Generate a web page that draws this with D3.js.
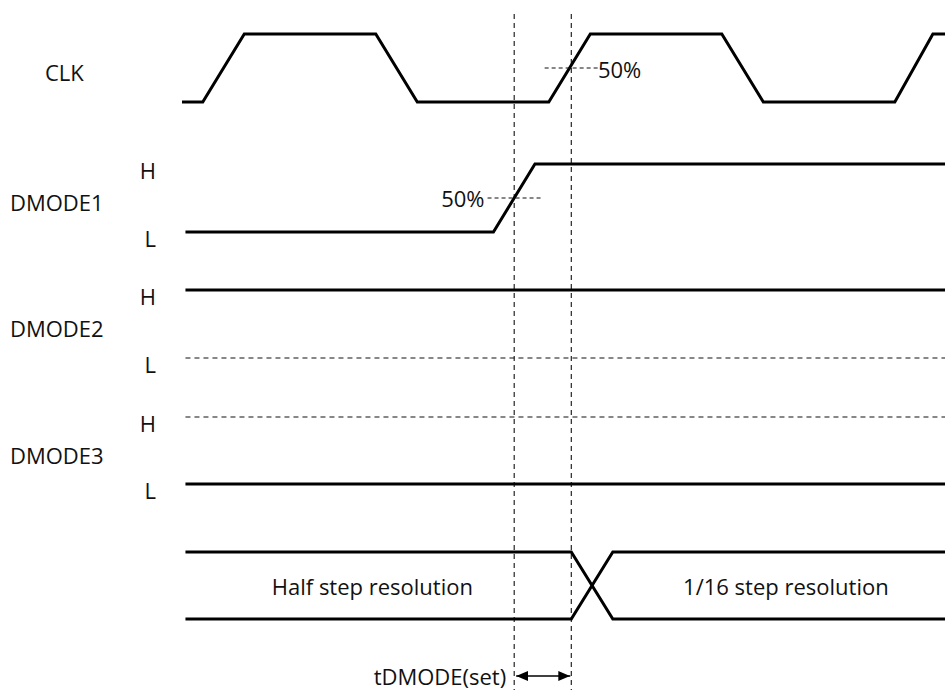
<!DOCTYPE html>
<html>
<head>
<meta charset="utf-8">
<script src="https://cdn.jsdelivr.net/npm/d3@7"></script>
<style>
html,body{margin:0;padding:0;background:#fff;}
svg{display:block;}
text{font-family:"Open Sans","Noto Sans",sans-serif;fill:#111;}
</style>
</head>
<body>
<svg id="chart" width="945" height="690"></svg>
<script>
// ---- data (time units, logic levels 1 = H, 0 = L) ----
const signalNames = ["CLK", "DMODE1", "DMODE2", "DMODE3", "MODE"];
const clkTimes  = [0, 6, 18, 56, 68, 106, 118, 156, 168, 206, 217, 220.5];
const clkLevels = [0, 0, 1, 1, 0, 0, 1, 1, 0, 0, 1, 1];
const dmode1Times  = [1, 90, 102, 220.5];
const dmode1Levels = [0, 0, 1, 1];
const dmode2Times  = [1, 220.5];
const dmode2Levels = [1, 1];
const dmode3Times  = [1, 220.5];
const dmode3Levels = [0, 0];
const busTimes = [1, 112.5, 124.5, 220.5];
const busLabels = ["Half step resolution", "1/16 step resolution"];
const levelLabels = ["H", "L"];
const dmode1Mid = 96;      // DMODE1 50% crossing
const clkMid = 112.5;      // CLK 50% crossing
const markerHalf = 7.7;    // half-length of 50% reference dashes
const timingLabel = "tDMODE(set)";
const pctLabel = "50%";

// ---- layout ----
const W = 945, H = 690;
const svg = d3.select("#chart");
const x = d3.scaleLinear().domain([0, 220.5]).range([182, 945]);
const rowHigh = {CLK: 34, DMODE1: 164, DMODE2: 290, DMODE3: 417, MODE: 552};
const rowLow  = {CLK: 102, DMODE1: 232, DMODE2: 358, DMODE3: 484, MODE: 619};
const yOf = name => d3.scaleLinear().domain([0, 1]).range([rowLow[name], rowHigh[name]]);

const line = (name) => d3.line().x(d => x(d[0])).y(d => yOf(name)(d[1]));
const zip = (a, b) => a.map((v, i) => [v, b[i]]);

function solid(path, name) {
  svg.append("path").attr("d", line(name)(path))
    .attr("fill", "none").attr("stroke", "#000").attr("stroke-width", 3)
    .attr("stroke-linejoin", "miter").attr("stroke-linecap", "butt");
}
function dashed(path, name, dash) {
  svg.append("path").attr("d", line(name)(path))
    .attr("fill", "none").attr("stroke", "#111").attr("stroke-width", 1.1)
    .attr("stroke-dasharray", dash || "5,4");
}

// vertical reference lines
[dmode1Mid, clkMid].forEach(t => {
  svg.append("line").attr("x1", x(t)).attr("x2", x(t)).attr("y1", 14).attr("y2", H)
    .attr("stroke", "#111").attr("stroke-width", 1.1).attr("stroke-dasharray", "5,4");
});

// waveforms
solid(zip(clkTimes, clkLevels), "CLK");
solid(zip(dmode1Times, dmode1Levels), "DMODE1");
solid(zip(dmode2Times, dmode2Levels), "DMODE2");
dashed(zip(dmode2Times, dmode2Levels.map(v => 1 - v)), "DMODE2");
solid(zip(dmode3Times, dmode3Levels), "DMODE3");
dashed(zip(dmode3Times, dmode3Levels.map(v => 1 - v)), "DMODE3");

// bus (two rails crossing)
solid([[busTimes[0], 1], [busTimes[1], 1], [busTimes[2], 0], [busTimes[3], 0]], "MODE");
solid([[busTimes[0], 0], [busTimes[1], 0], [busTimes[2], 1], [busTimes[3], 1]], "MODE");

// 50% markers
dashed([[clkMid - markerHalf, 0.5], [clkMid + markerHalf, 0.5]], "CLK", "4,3");
dashed([[dmode1Mid - markerHalf, 0.5], [dmode1Mid + markerHalf, 0.5]], "DMODE1", "4,3");
const fs = 22;
svg.append("text").attr("x", x(clkMid + markerHalf)).attr("y", yOf("CLK")(0.5) + 1)
  .attr("dominant-baseline", "central").attr("font-size", fs).text(pctLabel);
svg.append("text").attr("x", x(dmode1Mid - markerHalf) - 3).attr("y", yOf("DMODE1")(0.5))
  .attr("dominant-baseline", "central").attr("text-anchor", "end").attr("font-size", fs).text(pctLabel);

// signal labels
const nameX = {CLK: 45, DMODE1: 10, DMODE2: 10, DMODE3: 10};
signalNames.slice(0, 4).forEach(n => {
  svg.append("text").attr("x", nameX[n]).attr("y", yOf(n)(0.5) + 4)
    .attr("dominant-baseline", "central").attr("font-size", fs).text(n);
});
signalNames.slice(1, 4).forEach(n => {
  [1, 0].forEach((lv, i) => {
    svg.append("text").attr("x", 156).attr("y", yOf(n)(lv) + 6)
      .attr("dominant-baseline", "central").attr("text-anchor", "end")
      .attr("font-size", fs).text(levelLabels[i]);
  });
});

// bus labels
svg.append("text").attr("x", x((busTimes[0] + busTimes[1]) / 2) - 6).attr("y", yOf("MODE")(0.5))
  .attr("dominant-baseline", "central").attr("text-anchor", "middle").attr("font-size", fs).text(busLabels[0]);
svg.append("text").attr("x", x((busTimes[2] + busTimes[3]) / 2) + 7).attr("y", yOf("MODE")(0.5))
  .attr("dominant-baseline", "central").attr("text-anchor", "middle").attr("font-size", fs).text(busLabels[1]);

// timing arrow
const defs = svg.append("defs");
["start", "end"].forEach(k => {
  defs.append("marker").attr("id", "arr-" + k)
    .attr("viewBox", "0 0 12 10").attr("refX", k === "end" ? 12 : 0).attr("refY", 5)
    .attr("markerWidth", 12).attr("markerHeight", 10).attr("markerUnits", "userSpaceOnUse")
    .attr("orient", "auto")
    .append("path").attr("d", k === "end" ? "M0,0 L12,5 L0,10 Z" : "M12,0 L0,5 L12,10 Z")
    .attr("fill", "#000");
});
const arrowY = 676;
svg.append("line").attr("x1", x(dmode1Mid) + 2).attr("x2", x(clkMid) - 1)
  .attr("y1", arrowY).attr("y2", arrowY).attr("stroke", "#000").attr("stroke-width", 1.5)
  .attr("marker-start", "url(#arr-start)").attr("marker-end", "url(#arr-end)");
svg.append("text").attr("x", x(dmode1Mid) - 8).attr("y", arrowY)
  .attr("dominant-baseline", "central").attr("text-anchor", "end").attr("font-size", fs).text(timingLabel);
</script>
</body>
</html>
